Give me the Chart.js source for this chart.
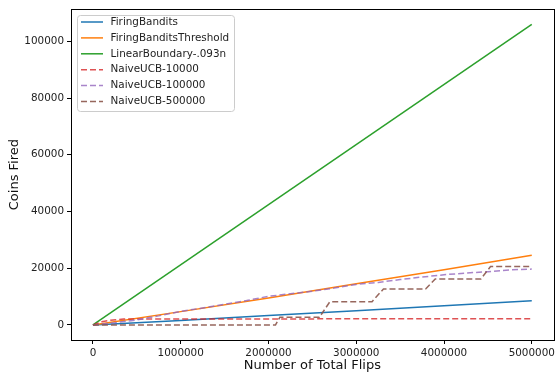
<!DOCTYPE html>
<html>
<head>
<meta charset="utf-8">
<script src="https://cdn.jsdelivr.net/npm/chart.js@4/dist/chart.umd.min.js"></script>
<style>
  html, body { margin: 0; padding: 0; background: #fff; }
  canvas { display: block; }
</style>
</head>
<body>
<canvas id="coinsChart" width="558" height="373"></canvas>
<script>
// Coins fired vs total flips

const xTicks = [0, 1000000, 2000000, 3000000, 4000000, 5000000];
const yTicks = [0, 20000, 40000, 60000, 80000, 100000];

const fbFlips = [0, 1000000, 2000000, 3000000, 4000000, 5000000];
const firingBandits = [0, 1600, 3300, 5000, 6800, 8500];
const firingBanditsThreshold = [0, 4700, 9500, 14500, 19500, 24600];

const linearFlips = [0, 5000000];
const linearBoundary = [0, 106000];

const ucb10kFlips = [0, 100000, 200000, 350000, 5000000];
const naiveUCB10k = [0, 1100, 1700, 2100, 2200];

const ucb100kFlips = [0, 250000, 500000, 750000, 1000000, 1250000, 1500000, 1750000, 2000000, 2250000,
    2500000, 2750000, 3000000, 3250000, 3500000, 3750000, 4000000, 4250000, 4500000, 4750000, 5000000];
const naiveUCB100k = [0, 800, 1800, 3200, 4800, 6000, 7300, 8600, 10100, 11000,
    11900, 13000, 14300, 15000, 16000, 16900, 17700, 18300, 18800, 19400, 19700];

const ucb500kFlips = [0, 2080000, 2130000, 2580000, 2700000, 3180000, 3310000, 3790000, 3900000, 4420000, 4530000, 5000000];
const naiveUCB500k = [0, 0, 2700, 2700, 8200, 8200, 12700, 12700, 16200, 16200, 20600, 20600];

function zip(xs, ys) {
    return xs.map((x, i) => ({ x: x, y: ys[i] }));
}

const series = [
    { label: 'FiringBandits', x: fbFlips, y: firingBandits, color: '#1f77b4', dash: [] },
    { label: 'FiringBanditsThreshold', x: fbFlips, y: firingBanditsThreshold, color: '#ff7f0e', dash: [] },
    { label: 'LinearBoundary-.093n', x: linearFlips, y: linearBoundary, color: '#2ca02c', dash: [] },
    { label: 'NaiveUCB-10000', x: ucb10kFlips, y: naiveUCB10k, color: 'rgba(214,39,40,0.8)', dash: [6, 3] },
    { label: 'NaiveUCB-100000', x: ucb100kFlips, y: naiveUCB100k, color: 'rgba(148,103,189,0.8)', dash: [6, 3] },
    { label: 'NaiveUCB-500000', x: ucb500kFlips, y: naiveUCB500k, color: 'rgba(140,86,75,0.9)', dash: [6, 3] }
];

const FONT = "'DejaVu Sans', sans-serif";
const TICK_SIZE = 10.4;

// axes frame + matplotlib-like legend box
const framePlugin = {
    id: 'frame',
    afterDraw(chart) {
        const { ctx, chartArea: a } = chart;
        ctx.save();
        ctx.strokeStyle = '#000';
        ctx.lineWidth = 1;
        ctx.strokeRect(Math.round(a.left) + 0.5, Math.round(a.top) + 0.5,
            Math.round(a.right - a.left), Math.round(a.bottom - a.top));

        // legend
        const bx = 77, by = 15, bw = 157, bh = 96;
        ctx.fillStyle = 'rgba(255,255,255,0.8)';
        ctx.strokeStyle = '#cccccc';
        ctx.beginPath();
        ctx.roundRect(bx + 0.5, by + 0.5, bw, bh, 3);
        ctx.fill();
        ctx.stroke();

        ctx.font = TICK_SIZE + 'px ' + FONT;
        ctx.textBaseline = 'middle';
        chart.data.datasets.forEach((ds, i) => {
            const y = by + 7 + i * 15.9;
            ctx.strokeStyle = ds.borderColor;
            ctx.lineWidth = 1.5;
            ctx.setLineDash(ds.borderDash);
            ctx.beginPath();
            ctx.moveTo(81, y);
            ctx.lineTo(103, y);
            ctx.stroke();
            ctx.setLineDash([]);
            ctx.fillStyle = '#222';
            ctx.fillText(ds.label, 110.5, y);
        });
        ctx.restore();
    }
};

new Chart(document.getElementById('coinsChart'), {
    type: 'line',
    data: {
        datasets: series.map((s, i) => ({
            label: s.label,
            data: zip(s.x, s.y),
            borderColor: s.color,
            borderDash: s.dash,
            borderWidth: 1.5,
            pointRadius: 0,
            tension: 0,
            fill: false,
            order: series.length - i
        }))
    },
    options: {
        responsive: false,
        animation: false,
        devicePixelRatio: 1,
        layout: { padding: { top: 8, right: 2, left: 0, bottom: 0 } },
        plugins: {
            legend: { display: false },
            tooltip: { enabled: false }
        },
        scales: {
            x: {
                type: 'linear',
                min: -250000,
                max: 5250000,
                afterBuildTicks: (scale) => { scale.ticks = xTicks.map(v => ({ value: v })); },
                afterFit: (scale) => { scale.height = 33; },
                border: { display: false },
                grid: { display: true, drawOnChartArea: false, tickLength: 4, color: '#000' },
                ticks: {
                    color: '#222',
                    font: { family: FONT, size: TICK_SIZE },
                    padding: 3,
                    maxRotation: 0,
                    callback: (v) => String(v)
                },
                title: {
                    display: true,
                    text: 'Number of Total Flips',
                    color: '#111',
                    font: { family: FONT, size: 13 },
                    padding: { top: 0, bottom: 0 }
                }
            },
            y: {
                type: 'linear',
                min: -5300,
                max: 111300,
                afterBuildTicks: (scale) => { scale.ticks = yTicks.map(v => ({ value: v })); },
                afterFit: (scale) => { scale.width = 71; },
                border: { display: false },
                grid: { display: true, drawOnChartArea: false, tickLength: 4, color: '#000' },
                ticks: {
                    color: '#222',
                    font: { family: FONT, size: TICK_SIZE },
                    padding: 3,
                    callback: (v) => String(v)
                },
                title: {
                    display: true,
                    text: 'Coins Fired',
                    color: '#111',
                    font: { family: FONT, size: 13 },
                    padding: { top: 7, bottom: 0 }
                }
            }
        }
    },
    plugins: [framePlugin]
});
</script>
</body>
</html>
